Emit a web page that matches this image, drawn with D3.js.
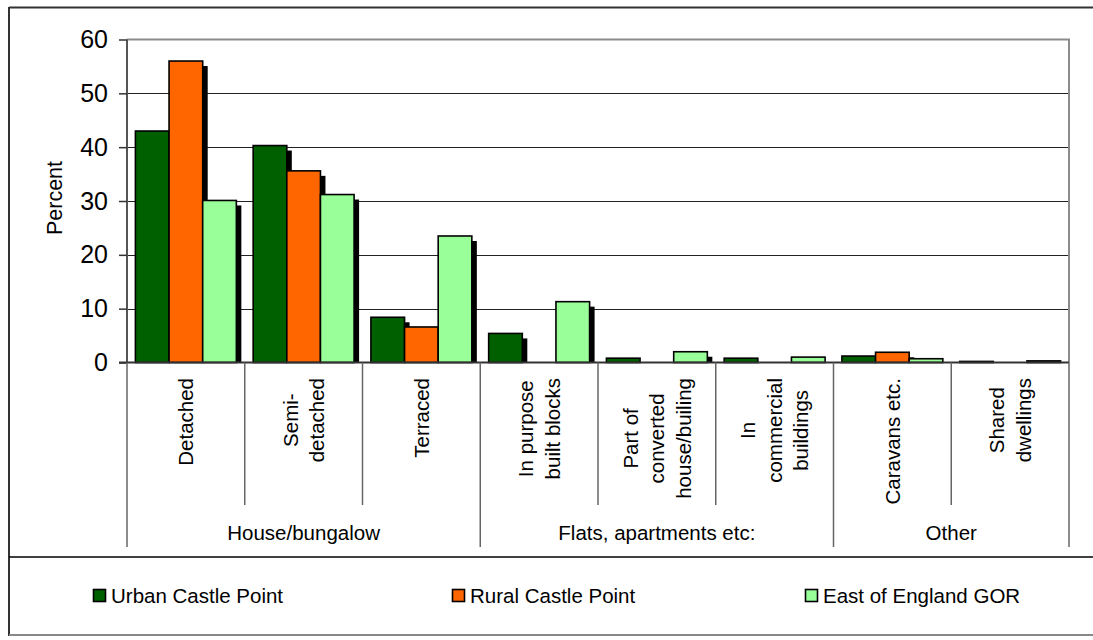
<!DOCTYPE html>
<html><head><meta charset="utf-8">
<script src="https://cdn.jsdelivr.net/npm/d3@7"></script>
<style>
html,body{margin:0;padding:0;background:#fff;}
svg{display:block;font-family:"Liberation Sans",Arial,sans-serif;}
</style></head>
<body><svg id="c" width="1093" height="640"></svg>
<script>
const categories = ["Detached","Semi-detached","Terraced","In purpose built blocks","Part of converted house/builing","In commercial buildings","Caravans etc.","Shared dwellings"];
const categoryLines = [["Detached"],["Semi-","detached"],["Terraced"],["In purpose","built blocks"],["Part of","converted","house/builing"],["In","commercial","buildings"],["Caravans etc."],["Shared","dwellings"]];
const groupNames = ["House/bungalow","Flats, apartments etc:","Other"];
const groupSizes = [3,3,2];
const seriesNames = ["Urban Castle Point","Rural Castle Point","East of England GOR"];
const urban = [43.0, 40.3, 8.4, 5.4, 0.8, 0.8, 1.2, 0.2];
const rural = [56.0, 35.6, 6.6, 0, 0, 0, 1.9, 0];
const east  = [30.1, 31.2, 23.5, 11.3, 2.0, 1.0, 0.7, 0.3];
const yTicks = [0,10,20,30,40,50,60];
const colors = ["#006000","#ff6600","#99ff99"];
const series = [urban, rural, east];

const svg = d3.select("#c");
const L = 127, R = 1069, T = 39.5, B = 362.5;
const x0 = d3.scaleBand().domain(categories).range([L, R]).paddingInner(0).paddingOuter(0);
const x1 = d3.scaleBand().domain(seriesNames).range([0, x0.bandwidth()]).paddingInner(0).paddingOuter(0.25);
const y = d3.scaleLinear().domain([0,60]).range([B, T]);

// outer frame
svg.append("line").attr("x1",9).attr("x2",1093).attr("y1",7.5).attr("y2",7.5).attr("stroke","#333").attr("stroke-width",2);
svg.append("line").attr("x1",9).attr("x2",9).attr("y1",7).attr("y2",636).attr("stroke","#333").attr("stroke-width",2);
svg.append("line").attr("x1",9).attr("x2",1093).attr("y1",557).attr("y2",557).attr("stroke","#000").attr("stroke-width",1.5);
svg.append("line").attr("x1",9).attr("x2",1093).attr("y1",635).attr("y2",635).attr("stroke","#888").attr("stroke-width",2);

// gridlines
svg.append("g").selectAll("line").data(yTicks.filter(d=>d>0 && d<60)).join("line")
  .attr("x1",L).attr("x2",R).attr("y1",d=>Math.round(y(d))+0.5).attr("y2",d=>Math.round(y(d))+0.5)
  .attr("stroke","#222").attr("stroke-width",1);
// plot border top/right
svg.append("path").attr("d",`M${L},${T} H${R} V${B}`).attr("fill","none").attr("stroke","#8c8c8c").attr("stroke-width",2);

// bars with shadows
const bars = svg.append("g");
series.forEach((vals, si) => {
  vals.forEach((v, ci) => {
    if (v <= 0) return;
    const bx = x0(categories[ci]) + x1(seriesNames[si]);
    const bw = x1.bandwidth();
    bars.append("rect").attr("x", bx + 5).attr("y", y(v) + 5).attr("width", bw).attr("height", Math.max(0, y(0) - y(v) - 5)).attr("fill","#000");
    bars.append("rect").attr("x", bx).attr("y", y(v)).attr("width", bw).attr("height", y(0) - y(v))
      .attr("fill", colors[si]).attr("stroke","#000").attr("stroke-width",1.6);
  });
});

// y axis
const ya = svg.append("g").attr("transform",`translate(${L},0)`)
  .call(d3.axisLeft(y).tickValues(yTicks).tickSize(8).tickPadding(11).tickFormat(d3.format("d")));
ya.select(".domain").attr("stroke","#555").attr("stroke-width",2).attr("d",`M0,${T}V${B}`);
ya.selectAll(".tick line").attr("stroke","#333").attr("stroke-width",1.5);
ya.selectAll(".tick text").attr("font-size",25).attr("fill","#000").attr("font-family","Liberation Sans, Arial, sans-serif");
svg.append("text").attr("transform",`translate(61.5,198) rotate(-90)`).attr("text-anchor","middle")
  .attr("font-size",21.5).text("Percent");

// baseline
svg.append("line").attr("x1",L-8).attr("x2",R).attr("y1",B).attr("y2",B).attr("stroke","#333").attr("stroke-width",2);

// category dividers
const bounds = categories.map(c=>x0(c)).concat([R]);
let gi = [0]; groupSizes.forEach(s=>gi.push(gi[gi.length-1]+s));
bounds.forEach((bx, i) => {
  const isGroup = gi.includes(i);
  svg.append("line").attr("x1",bx).attr("x2",bx).attr("y1",B).attr("y2", isGroup ? 547 : 505)
    .attr("stroke","#666").attr("stroke-width",1.5);
});

// category labels
const lineH = 26.5, topY = 378;
categoryLines.forEach((lines, ci) => {
  const cx = x0(categories[ci]) + x0.bandwidth()/2;
  const g = svg.append("g");
  const ts = lines.map((ln, li) => g.append("text").attr("font-size",20.5).attr("text-anchor","middle").attr("dy","0.35em").text(ln));
  const maxLen = d3.max(ts, t => t.node().getComputedTextLength());
  const cy = topY + maxLen/2;
  ts.forEach((t, li) => {
    const lx = cx + (li - (lines.length-1)/2) * lineH;
    t.attr("transform", `translate(${lx},${cy}) rotate(-90)`);
  });
});

// group labels
groupNames.forEach((gname, i) => {
  const gx = (bounds[gi[i]] + bounds[gi[i+1]]) / 2;
  svg.append("text").attr("x", gx).attr("y", 540).attr("text-anchor","middle").attr("font-size",20.5).text(gname);
});

// legend
const legX = [93, 452, 805];
seriesNames.forEach((s, i) => {
  svg.append("rect").attr("x", legX[i]+0.5).attr("y", 589.5).attr("width",12).attr("height",12)
    .attr("fill", colors[i]).attr("stroke","#000").attr("stroke-width",1.6);
  svg.append("text").attr("x", legX[i]+18).attr("y", 603).attr("font-size",20.5).text(s);
});
</script></body></html>
